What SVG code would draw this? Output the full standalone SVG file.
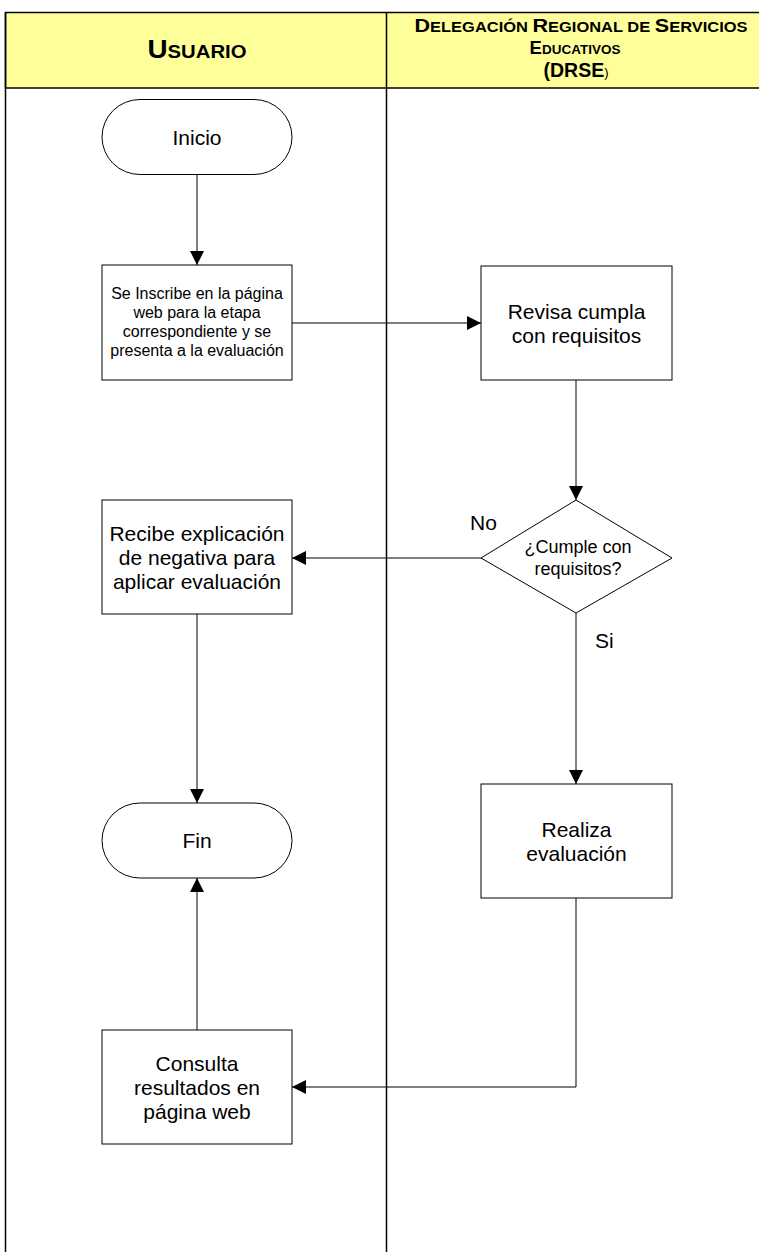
<svg xmlns="http://www.w3.org/2000/svg" width="759" height="1252" viewBox="0 0 759 1252">
<style>
text{font-family:"Liberation Sans",Arial,sans-serif;fill:#000}
.hd{font-weight:bold}
.n{fill:#fff;stroke:#000;stroke-width:1}
.t{font-size:21px;text-anchor:middle}
.s{font-size:16px;text-anchor:middle}
.d{font-size:18px;text-anchor:middle}
.c{fill:none;stroke:#000;stroke-width:1}
.lane{stroke:#000;stroke-width:1.5;fill:none}
</style>
<defs>
<marker id="ah" markerUnits="userSpaceOnUse" markerWidth="14" markerHeight="14" viewBox="0 0 13 13" refX="13" refY="6.5" orient="auto">
<path d="M0,0 L13,6.5 L0,13 z" fill="#000"/>
</marker>
</defs>
<g id="lanes">
<rect x="5.5" y="12.5" width="760" height="75.5" fill="#FFFF99" stroke="#000" stroke-width="1.5"/>
<line class="lane" x1="5.5" y1="12" x2="5.5" y2="1252"/>
<line class="lane" x1="386.5" y1="12" x2="386.5" y2="1252"/>
<text class="hd" x="197" y="58" text-anchor="middle" textLength="99" lengthAdjust="spacingAndGlyphs"><tspan font-size="26">U</tspan><tspan font-size="19">SUARIO</tspan></text>
<text class="hd" x="581" y="32" text-anchor="middle" textLength="333" lengthAdjust="spacingAndGlyphs"><tspan font-size="19">D</tspan><tspan font-size="14.5">ELEGACIÓN </tspan><tspan font-size="19">R</tspan><tspan font-size="14.5">EGIONAL DE </tspan><tspan font-size="19">S</tspan><tspan font-size="14.5">ERVICIOS</tspan></text>
<text class="hd" x="575" y="54" text-anchor="middle"><tspan font-size="18.5">E</tspan><tspan font-size="13.5">DUCATIVOS</tspan></text>
<text x="576" y="77" text-anchor="middle"><tspan class="hd" font-size="19.5">(DRSE</tspan><tspan font-size="13">)</tspan></text>
</g>
<g id="connectors">
<line class="c" x1="197" y1="175" x2="197" y2="265" marker-end="url(#ah)"/>
<line class="c" x1="292" y1="323" x2="481" y2="323" marker-end="url(#ah)"/>
<line class="c" x1="576" y1="380" x2="576" y2="500" marker-end="url(#ah)"/>
<line class="c" x1="481" y1="558" x2="292" y2="558" marker-end="url(#ah)"/>
<line class="c" x1="197" y1="614" x2="197" y2="803" marker-end="url(#ah)"/>
<line class="c" x1="576" y1="613" x2="576" y2="784" marker-end="url(#ah)"/>
<polyline class="c" points="576,898 576,1087 292,1087" marker-end="url(#ah)"/>
<line class="c" x1="197" y1="1030" x2="197" y2="878" marker-end="url(#ah)"/>
<text x="470" y="530" font-size="21">No</text>
<text x="595" y="648" font-size="21">Si</text>
</g>
<g id="inicio">
<rect class="n" x="102" y="99.5" width="190" height="75" rx="38" ry="37.5"/>
<text class="t" x="197" y="145">Inicio</text>
</g>
<g id="inscribe">
<rect class="n" x="102" y="265" width="190" height="115"/>
<text class="s" x="197" y="299">Se Inscribe en la página</text>
<text class="s" x="197" y="318">web para la etapa</text>
<text class="s" x="197" y="337">correspondiente y se</text>
<text class="s" x="197" y="356">presenta a la evaluación</text>
</g>
<g id="revisa">
<rect class="n" x="481" y="266" width="191" height="114"/>
<text class="t" x="576.5" y="318.5">Revisa cumpla</text>
<text class="t" x="576.5" y="342.5">con requisitos</text>
</g>
<g id="cumple">
<polygon class="n" points="576,500 672,558 576,613 481,558"/>
<text class="d" x="578" y="553">¿Cumple con</text>
<text class="d" x="578" y="575">requisitos?</text>
</g>
<g id="recibe">
<rect class="n" x="102" y="500" width="190" height="114"/>
<text class="t" x="197" y="540.5">Recibe explicación</text>
<text class="t" x="197" y="564.5">de negativa para</text>
<text class="t" x="197" y="588.5">aplicar evaluación</text>
</g>
<g id="fin">
<rect class="n" x="102" y="803" width="190" height="75" rx="38" ry="37.5"/>
<text class="t" x="197" y="848">Fin</text>
</g>
<g id="realiza">
<rect class="n" x="481" y="784" width="191" height="114"/>
<text class="t" x="576.5" y="836.5">Realiza</text>
<text class="t" x="576.5" y="860.5">evaluación</text>
</g>
<g id="consulta">
<rect class="n" x="102" y="1030" width="190" height="114"/>
<text class="t" x="197" y="1070.5">Consulta</text>
<text class="t" x="197" y="1094.5">resultados en</text>
<text class="t" x="197" y="1118.5">página web</text>
</g>
</svg>
